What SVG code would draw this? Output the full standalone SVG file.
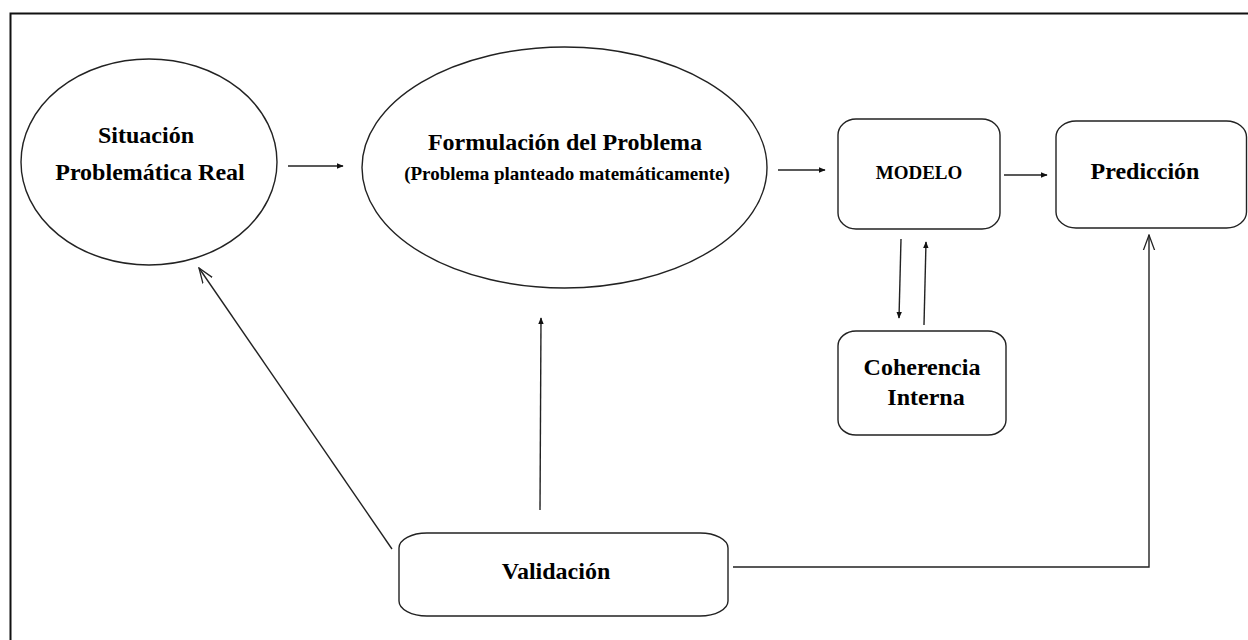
<svg xmlns="http://www.w3.org/2000/svg" width="1248" height="640" viewBox="0 0 1248 640">
<defs>
<style>
.shape{fill:#fff;stroke:#222;stroke-width:1.4}
.line{fill:none;stroke:#222;stroke-width:1.4}
.t{font-family:'Liberation Serif','Times New Roman','DejaVu Serif',serif;font-weight:700;fill:#000;text-anchor:middle}
</style>
<marker id="fill" viewBox="0 0 10 10" refX="9" refY="5" markerWidth="7" markerHeight="7" markerUnits="userSpaceOnUse" orient="auto">
<path d="M0,1 L10,5 L0,9 Z" fill="#111"/>
</marker>
<marker id="open" viewBox="0 0 20 20" refX="19" refY="10" markerWidth="16" markerHeight="16" markerUnits="userSpaceOnUse" orient="auto">
<path d="M0,3 L19,10 L0,17" fill="none" stroke="#222" stroke-width="1.6"/>
</marker>
</defs>
<rect width="1248" height="640" fill="#fff"/>
<g id="frame">
<path d="M1248,13.5 H10.5 V640" fill="none" stroke="#111" stroke-width="2"/>
</g>
<g id="connectors">
<line class="line" x1="288" y1="166" x2="343" y2="166" marker-end="url(#fill)"/>
<line class="line" x1="778" y1="170" x2="825" y2="170" marker-end="url(#fill)"/>
<line class="line" x1="1004" y1="175" x2="1047" y2="175" marker-end="url(#fill)"/>
<line class="line" x1="901" y1="239" x2="899" y2="318" marker-end="url(#fill)"/>
<line class="line" x1="924" y1="325" x2="926" y2="242" marker-end="url(#fill)"/>
<line class="line" x1="540" y1="510" x2="541" y2="318" marker-end="url(#fill)"/>
<line class="line" x1="392" y1="549" x2="199" y2="268" marker-end="url(#open)"/>
<path class="line" d="M733,567 H1149 V235" marker-end="url(#open)"/>
</g>
<g id="situacion">
<ellipse class="shape" cx="149" cy="162" rx="128" ry="103"/>
<text class="t" font-family="Liberation Serif, serif" x="146" y="143" font-size="24">Situación</text>
<text class="t" font-family="Liberation Serif, serif" x="150" y="180" font-size="24">Problemática Real</text>
</g>
<g id="formulacion">
<ellipse class="shape" cx="564.5" cy="167.5" rx="202.5" ry="120.5"/>
<text class="t" font-family="Liberation Serif, serif" x="565" y="150" font-size="24">Formulación del Problema</text>
<text class="t" font-family="Liberation Serif, serif" x="567" y="180" font-size="19">(Problema planteado matemáticamente)</text>
</g>
<g id="modelo">
<rect class="shape" x="838" y="119" width="162" height="110" rx="18" ry="16"/>
<text class="t" font-family="Liberation Serif, serif" x="919" y="179" font-size="19">MODELO</text>
</g>
<g id="prediccion">
<rect class="shape" x="1056" y="121" width="190.5" height="107" rx="20" ry="16"/>
<text class="t" font-family="Liberation Serif, serif" x="1145" y="179" font-size="24">Predicción</text>
</g>
<g id="coherencia">
<rect class="shape" x="838" y="331" width="168" height="104" rx="18" ry="15"/>
<text class="t" font-family="Liberation Serif, serif" x="922" y="375" font-size="24">Coherencia</text>
<text class="t" font-family="Liberation Serif, serif" x="926" y="405" font-size="24">Interna</text>
</g>
<g id="validacion">
<rect class="shape" x="399" y="533" width="329" height="83" rx="28" ry="15"/>
<text class="t" font-family="Liberation Serif, serif" x="556" y="579" font-size="24">Validación</text>
</g>
</svg>
